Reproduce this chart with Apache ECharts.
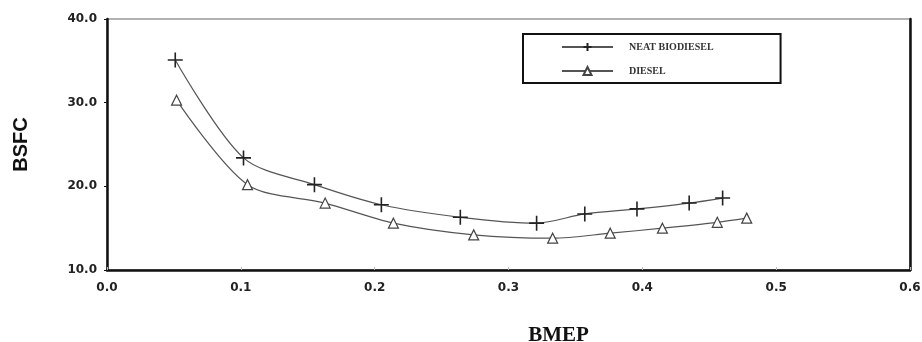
<!DOCTYPE html>
<html>
<head>
<meta charset="utf-8">
<script src="https://cdn.jsdelivr.net/npm/echarts@6/dist/echarts.min.js"></script>
<style>
  html, body { margin: 0; padding: 0; background: #fff; }
  #chart { width: 922px; height: 342px; }
</style>
</head>
<body>
<div id="chart"></div>
<script>
// BMEP (x) / BSFC (y) pairs
var bioX = [0.051, 0.102, 0.155, 0.205, 0.264, 0.321, 0.357, 0.396, 0.435, 0.460];
var bioY = [35.1, 23.4, 20.2, 17.8, 16.3, 15.6, 16.7, 17.3, 18.0, 18.6];
var dieselX = [0.052, 0.105, 0.163, 0.214, 0.274, 0.333, 0.376, 0.415, 0.456, 0.478];
var dieselY = [30.3, 20.2, 18.0, 15.6, 14.2, 13.8, 14.4, 15.0, 15.7, 16.2];
var seriesNames = ['NEAT BIODIESEL', 'DIESEL'];

function pairs(xs, ys) {
  return xs.map(function (x, i) { return [x, ys[i]]; });
}

var plusIcon = 'path://M0,5L10,5M5,0L5,10';
var labelFont = { fontFamily: 'DejaVu Sans', fontWeight: 'bold', fontSize: 12, color: '#222' };

var chart = echarts.init(document.getElementById('chart'));
var option = {
  animation: false,
  grid: {
    left: 107, right: 12, top: 19, bottom: 72,
    outerBoundsMode: 'none',
    show: true, borderColor: '#999', borderWidth: 1.5
  },
  legend: {
    left: 523, top: 34,
    orient: 'vertical',
    padding: [8, 67, 7, 38],
    itemGap: 14,
    itemWidth: 51, itemHeight: 10,
    borderColor: '#111', borderWidth: 2,
    textStyle: { fontFamily: 'Liberation Serif', fontWeight: 'bold', fontSize: 10, color: '#333', padding: [0, 0, 0, 11] },
    data: seriesNames
  },
  xAxis: {
    type: 'value', min: 0, max: 0.6, interval: 0.1,
    name: 'BMEP', nameLocation: 'middle', nameGap: 55,
    nameTextStyle: { fontFamily: 'Liberation Serif', fontWeight: 'bold', fontSize: 21, color: '#111', padding: [0, 0, 0, 100] },
    axisLine: { lineStyle: { color: '#111', width: 2.5 } },
    axisTick: { show: true, inside: true, length: 3, lineStyle: { color: '#bbb' } },
    splitLine: { show: false },
    axisLabel: Object.assign({ margin: 12, formatter: function (v) { return v.toFixed(1); } }, labelFont)
  },
  yAxis: [{
    type: 'value', min: 10, max: 40, interval: 10,
    name: 'BSFC', nameLocation: 'middle', nameGap: 76,
    nameTextStyle: { fontFamily: 'Liberation Sans', fontWeight: 'bold', fontSize: 20, color: '#111' },
    axisLine: { show: true, lineStyle: { color: '#111', width: 2.5 } },
    axisTick: { show: true, length: 3, lineStyle: { color: '#111' } },
    splitLine: { show: false },
    axisLabel: Object.assign({ margin: 10, formatter: function (v) { return v.toFixed(1); } }, labelFont)
  }, {
    type: 'value', min: 10, max: 40, position: 'right',
    axisLine: { show: true, lineStyle: { color: '#111', width: 2.5 } },
    axisTick: { show: false }, axisLabel: { show: false }, splitLine: { show: false }
  }],
  series: [{
    name: seriesNames[0], type: 'line', smooth: 0.3,
    data: pairs(bioX, bioY),
    symbol: plusIcon, symbolSize: 15,
    lineStyle: { color: '#555', width: 1.2 },
    itemStyle: { color: '#222', borderColor: '#222', borderWidth: 1.6 }
  }, {
    name: seriesNames[1], type: 'line', smooth: 0.3,
    data: pairs(dieselX, dieselY),
    symbol: 'triangle', symbolSize: 10,
    lineStyle: { color: '#555', width: 1.2 },
    itemStyle: { color: '#fff', borderColor: '#444', borderWidth: 1.2 }
  }]
};
option && chart.setOption(option);
</script>
</body>
</html>
